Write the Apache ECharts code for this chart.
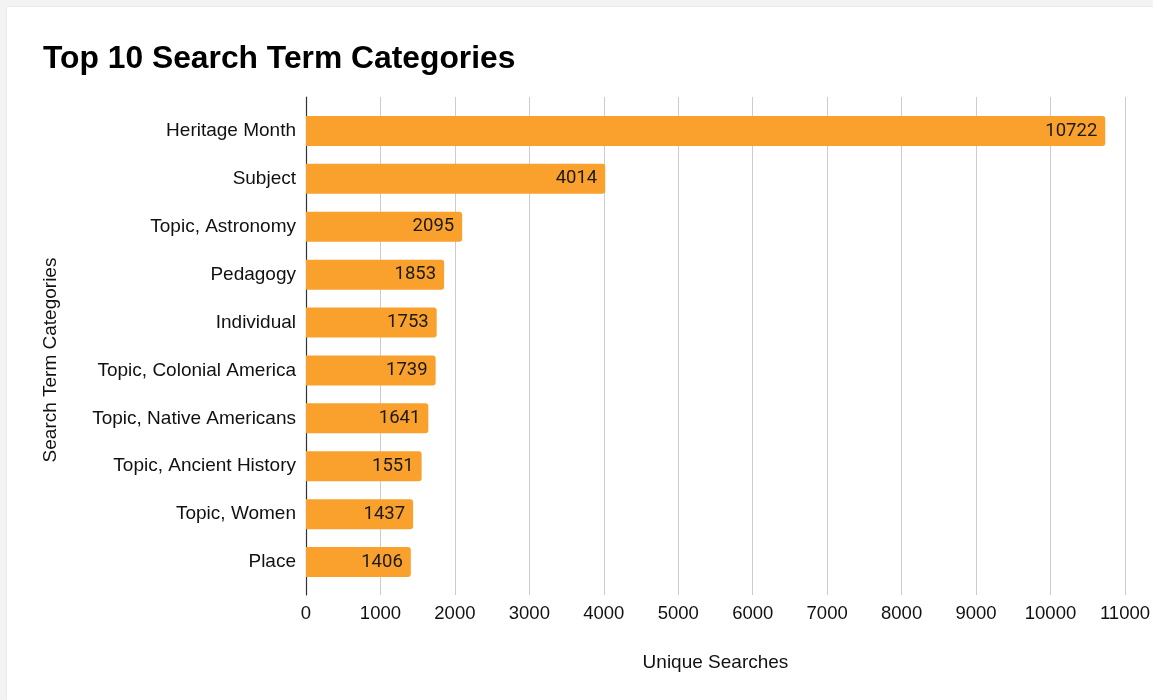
<!DOCTYPE html>
<html>
<head>
<meta charset="utf-8">
<title>Top 10 Search Term Categories</title>
<script src="https://cdn.jsdelivr.net/npm/echarts@6/dist/echarts.min.js"></script>
<style>
  html, body { margin: 0; padding: 0; background: #f3f3f3; width: 1153px; height: 700px; overflow: hidden; }
  #card { position: absolute; left: 7px; top: 7px; right: 0; bottom: 0; background: #ffffff;
          box-shadow: 0 0 2px rgba(0,0,0,0.10); }
  #chart { position: absolute; left: 0; top: 0; width: 1153px; height: 700px; }
</style>
</head>
<body>
<div id="card"></div>
<div id="chart"></div>
<script>
// Search term categories and their unique search counts
const categories = [
  'Heritage Month', 'Subject', 'Topic, Astronomy', 'Pedagogy', 'Individual',
  'Topic, Colonial America', 'Topic, Native Americans', 'Topic, Ancient History',
  'Topic, Women', 'Place'
];
const uniqueSearches = [10722, 4014, 2095, 1853, 1753, 1739, 1641, 1551, 1437, 1406];
const xTicks = { min: 0, max: 11000, interval: 1000 };

const labelFont = 'Liberation Sans, Arial, Helvetica, sans-serif';
const chart = echarts.init(document.getElementById('chart'), null, { renderer: 'canvas' });

chart.setOption({
  backgroundColor: 'transparent',
  animation: false,
  title: {
    text: 'Top 10 Search Term Categories',
    left: 38, top: 38,
    textStyle: { fontFamily: labelFont, fontSize: 31.8, fontWeight: 'bold', color: '#000000' }
  },
  grid: [
    // frame for the value axis, gridlines and the vertical baseline
    { left: 306, top: 97, width: 820, height: 498 },
    // band area for the bars
    { left: 306, top: 107, width: 820, height: 479 }
  ],
  xAxis: [
    {
      gridIndex: 0, type: 'value',
      min: xTicks.min, max: xTicks.max, interval: xTicks.interval,
      axisLine: { show: false }, axisTick: { show: false },
      splitLine: { show: true, lineStyle: { color: '#cccccc', width: 1 } },
      axisLabel: {
        margin: 9, fontFamily: labelFont, fontSize: 18.5, color: '#111111',
        formatter: (v) => String(v)
      },
      name: 'Unique Searches', nameLocation: 'middle', nameGap: 58,
      nameTextStyle: { fontFamily: labelFont, fontSize: 19, color: '#111111' }
    },
    {
      gridIndex: 1, type: 'value',
      min: xTicks.min, max: xTicks.max, interval: xTicks.interval,
      show: false
    }
  ],
  yAxis: [
    {
      gridIndex: 0, type: 'value', min: 0, max: 1,
      axisLine: { show: true, lineStyle: { color: '#333333', width: 1.2 } },
      axisTick: { show: false }, axisLabel: { show: false }, splitLine: { show: false },
      name: 'Search Term Categories', nameLocation: 'middle', nameGap: 246,
      nameTextStyle: { fontFamily: labelFont, fontSize: 19, color: '#111111', padding: [0, 28, 0, 0] }
    },
    {
      gridIndex: 1, type: 'category', data: categories, inverse: true,
      axisLine: { show: false }, axisTick: { show: false }, splitLine: { show: false },
      axisLabel: { margin: 10, fontFamily: labelFont, fontSize: 19, color: '#111111' }
    }
  ],
  series: [{
    type: 'bar',
    xAxisIndex: 1, yAxisIndex: 1,
    data: uniqueSearches,
    barWidth: 30,
    itemStyle: { color: '#f9a12c', borderRadius: [0, 3, 3, 0] },
    label: {
      show: true, position: 'insideRight', distance: 8,
      fontFamily: 'Roboto, sans-serif', fontSize: 18.5, color: '#1a1a1a'
    }
  }]
});
</script>
</body>
</html>
